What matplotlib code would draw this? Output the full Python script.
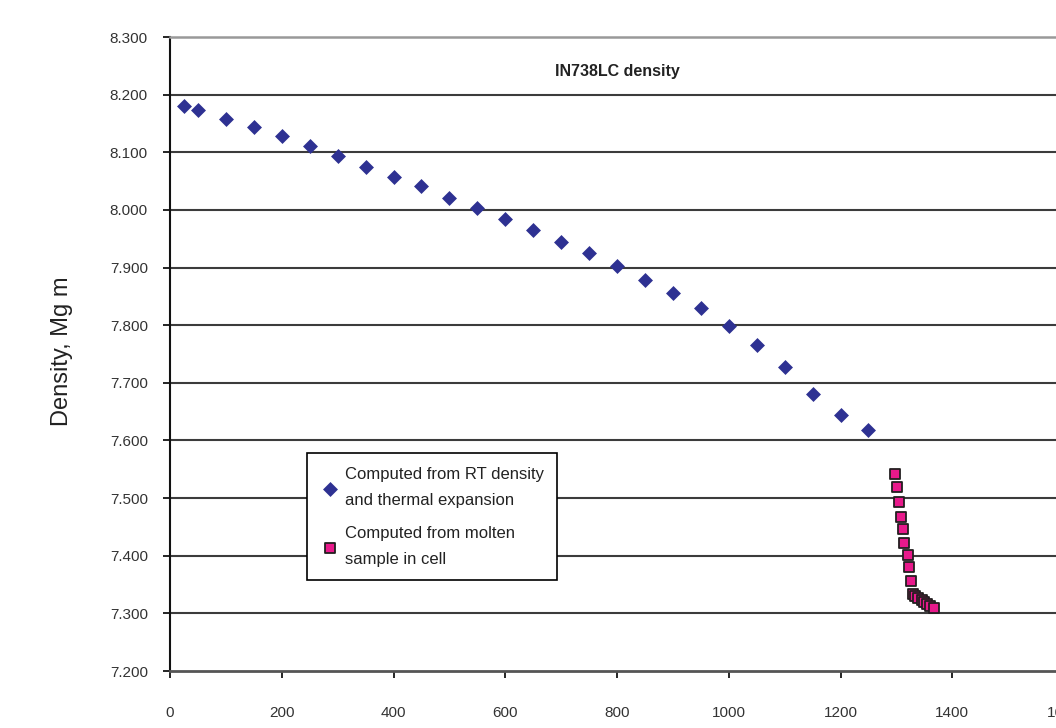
import matplotlib
matplotlib.use('Agg')
import matplotlib.pyplot as plt
from matplotlib.ticker import FixedLocator

plt.rcParams['font.family'] = ['Liberation Sans', 'DejaVu Sans']

# computed from RT density and thermal expansion
rt_temp = [25, 50, 100, 150, 200, 250, 300, 350, 400, 450, 500, 550, 600, 650,
           700, 750, 800, 850, 900, 950, 1000, 1050, 1100, 1150, 1200, 1250]
rt_dens = [8.180, 8.173, 8.158, 8.144, 8.128, 8.111, 8.093, 8.074, 8.057, 8.041,
           8.020, 8.003, 7.984, 7.965, 7.944, 7.925, 7.902, 7.878, 7.856, 7.830,
           7.798, 7.765, 7.727, 7.680, 7.645, 7.619]

# computed from molten sample in cell
melt_temp = [1298, 1302, 1305, 1309, 1311, 1314, 1320, 1323, 1327, 1329, 1334,
             1339, 1345, 1350, 1355, 1361, 1368]
melt_dens = [7.541, 7.519, 7.494, 7.468, 7.446, 7.422, 7.401, 7.380, 7.356, 7.333,
             7.330, 7.326, 7.323, 7.319, 7.316, 7.312, 7.309]

yticks = [7.2, 7.3, 7.4, 7.5, 7.6, 7.7, 7.8, 7.9, 8.0, 8.1, 8.2, 8.3]
xticks = [0, 200, 400, 600, 800, 1000, 1200, 1400, 1600]

fig = plt.figure(figsize=(10.56, 7.28), dpi=100)
ax = fig.add_axes([170 / 1056, 57 / 728, 894 / 1056, 634 / 728])
ax.set_xlim(0, 1600)
ax.set_ylim(7.2, 8.3)

for y in yticks[1:-1]:
    ax.axhline(y, color='#3c3c3c', lw=1.5, zorder=1)

ax.scatter(rt_temp, rt_dens, marker='D', s=58, color='#2e3192', lw=0,
           zorder=3, label='Computed from RT density\nand thermal expansion')
ax.scatter(melt_temp, melt_dens, marker='s', s=60, facecolor='#e8198b',
           edgecolor='#231f20', lw=1.3, zorder=3,
           label='Computed from molten\nsample in cell')

ax.yaxis.set_major_locator(FixedLocator(yticks))
ax.set_yticklabels(['%.3f' % v for v in yticks])
ax.xaxis.set_major_locator(FixedLocator(xticks))
ax.set_xticklabels([str(v) for v in xticks])
ax.tick_params(axis='y', direction='out', length=5, width=1.2, pad=11,
               labelsize=11, labelcolor='#333333')
ax.tick_params(axis='x', direction='out', length=5, width=1.2, pad=20,
               labelsize=11, labelcolor='#333333')

ax.spines['right'].set_visible(False)
ax.spines['top'].set_color('#999999')
ax.spines['top'].set_linewidth(1.8)
ax.spines['bottom'].set_color('#555555')
ax.spines['bottom'].set_linewidth(2)
ax.spines['left'].set_color('#111111')
ax.spines['left'].set_linewidth(1.5)

ax.text(0.5, 0.945, 'IN738LC density', transform=ax.transAxes, ha='center',
        va='center', fontsize=11.5, fontweight='bold', color='#222222')

fig.text(62 / 1056, 1 - 351 / 728, 'Density, Mg m', rotation=90, ha='center',
         va='center', fontsize=17, color='#222222')

leg = ax.legend(loc='lower left', bbox_to_anchor=(0.153, 0.1435),
                borderaxespad=0, fancybox=False, edgecolor='black',
                framealpha=1, fontsize=12, labelspacing=1.1,
                handletextpad=0.3, handlelength=1.2, borderpad=0.8,
                scatterpoints=1)
leg.get_frame().set_linewidth(1.2)
for t in leg.get_texts():
    t.set_color('#222222')
    t.set_linespacing(1.9)

fig.savefig('out.png', dpi=100)
